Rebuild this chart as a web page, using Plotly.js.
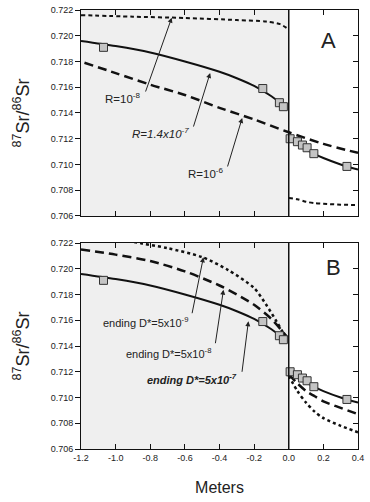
<!DOCTYPE html>
<html>
<head>
<meta charset="utf-8">
<script src="https://cdn.plot.ly/plotly-3.0.1.min.js"></script>
<style>
html,body{margin:0;padding:0;background:#fff;}
#chart{width:370px;height:502px;}
</style>
</head>
<body>
<div id="chart"></div>
<script>
// ---- measured data (same in both panels) ----
const dataX = [-1.07, -0.15, -0.054, -0.031, 0.008, 0.05, 0.079, 0.106, 0.145, 0.336];
const dataY = [0.7191, 0.7159, 0.7148, 0.71449, 0.7120, 0.71177, 0.71151, 0.7113, 0.71084, 0.70985];

// ---- best-fit model (solid), both panels ----
const fitLeftX  = [-1.2, -1.0, -0.8, -0.6, -0.4, -0.3, -0.2, -0.1, -0.02];
const fitLeftY  = [0.7196, 0.7192, 0.7187, 0.7180, 0.7172, 0.7167, 0.7161, 0.7153, 0.7145];
const fitRightX = [0.0, 0.05, 0.1, 0.15, 0.2, 0.3, 0.4];
const fitRightY = [0.7121, 0.7116, 0.7112, 0.7108, 0.7105, 0.7100, 0.7096];

// ---- panel A: R = 1e-6 (long dash, continuous) ----
const r6X = [-1.18, -1.0, -0.8, -0.6, -0.4, -0.2, 0.0, 0.2, 0.4];
const r6Y = [0.7179, 0.7171, 0.7162, 0.7154, 0.7144, 0.7135, 0.7125, 0.7116, 0.7109];

// ---- panel A: R = 1e-8 (short dash) ----
const r8LeftX  = [-1.2, -0.9, -0.6, -0.3, -0.13, -0.05, -0.01];
const r8LeftY  = [0.7216, 0.72148, 0.72138, 0.72122, 0.7211, 0.7209, 0.72058];
const r8RightX = [0.0, 0.05, 0.1, 0.15, 0.2, 0.3, 0.4];
const r8RightY = [0.7074, 0.7073, 0.7071, 0.7070, 0.70695, 0.70688, 0.70685];

// ---- panel B: ending D* = 5e-8 (long dash) ----
const d8LeftX  = [-1.2, -1.0, -0.8, -0.6, -0.4, -0.3, -0.2, -0.1, -0.04, -0.01];
const d8LeftY  = [0.7215, 0.7211, 0.7206, 0.7198, 0.7187, 0.7180, 0.7172, 0.7161, 0.7152, 0.7147];
const d8RightX = [0.0, 0.05, 0.1, 0.15, 0.2, 0.3, 0.4];
const d8RightY = [0.7118, 0.7111, 0.7105, 0.7101, 0.7097, 0.7092, 0.7087];

// ---- panel B: ending D* = 5e-9 (short dash) ----
const d9LeftX  = [-1.2, -1.0, -0.9, -0.7, -0.5, -0.35, -0.2, -0.13, -0.07, -0.03, -0.01];
const d9LeftY  = [0.7227, 0.72245, 0.7221, 0.7216, 0.7209, 0.7199, 0.7185, 0.7172, 0.7159, 0.7150, 0.7147];
const d9RightX = [0.0, 0.05, 0.1, 0.15, 0.2, 0.3, 0.4];
const d9RightY = [0.7117, 0.7105, 0.7096, 0.7089, 0.7084, 0.7078, 0.7073];

// ---- ticks ----
const xTickVals = [-1.2, -1.0, -0.8, -0.6, -0.4, -0.2, 0.0, 0.2, 0.4];
const xTickText = ['-1.2', '-1.0', '-0.8', '-0.6', '-0.4', '-0.2', '0.0', '0.2', '0.4'];
const yTickVals = [0.706, 0.708, 0.710, 0.712, 0.714, 0.716, 0.718, 0.720, 0.722];

const BLK = '#111';
const solid = {color: BLK, width: 2, shape: 'spline', smoothing: 0.8};
const longDash = {color: BLK, width: 2.5, dash: '9px,5px', shape: 'spline', smoothing: 0.8};
const shortDashA = {color: BLK, width: 2, dash: '4px,3px', shape: 'spline', smoothing: 0.8};
const shortDashB = {color: BLK, width: 2.5, dash: '3px,3px', shape: 'spline', smoothing: 0.8};
const markerStyle = {symbol: 'square', size: 8, color: '#c4c4c4', line: {color: '#333', width: 1}};

function ln(x, y, line, xa, ya) {
  return {x: x, y: y, mode: 'lines', line: line, xaxis: xa, yaxis: ya, hoverinfo: 'skip'};
}

const traces = [
  // panel A
  ln(r8LeftX, r8LeftY, shortDashA, 'x', 'y'),
  ln(r8RightX, r8RightY, shortDashA, 'x', 'y'),
  ln(r6X, r6Y, longDash, 'x', 'y'),
  ln(fitLeftX, fitLeftY, solid, 'x', 'y'),
  ln(fitRightX, fitRightY, solid, 'x', 'y'),
  {x: dataX, y: dataY, mode: 'markers', marker: markerStyle, xaxis: 'x', yaxis: 'y', cliponaxis: false},
  // panel B
  ln(d9LeftX, d9LeftY, shortDashB, 'x2', 'y2'),
  ln(d9RightX, d9RightY, shortDashB, 'x2', 'y2'),
  ln(d8LeftX, d8LeftY, longDash, 'x2', 'y2'),
  ln(d8RightX, d8RightY, longDash, 'x2', 'y2'),
  ln(fitLeftX, fitLeftY, solid, 'x2', 'y2'),
  ln(fitRightX, fitRightY, solid, 'x2', 'y2'),
  {x: dataX, y: dataY, mode: 'markers', marker: markerStyle, xaxis: 'x2', yaxis: 'y2', cliponaxis: false},
  // empty helpers for right-side inside ticks
  {x: [], y: [], xaxis: 'x', yaxis: 'y3', mode: 'lines', hoverinfo: 'skip'},
  {x: [], y: [], xaxis: 'x2', yaxis: 'y4', mode: 'lines', hoverinfo: 'skip'}
];

const FONT = 'Liberation Sans, Arial, sans-serif';
const tickFont = {family: FONT, size: 9, color: '#222'};

function xAxis(anchor, labels) {
  return {
    anchor: anchor, domain: [0, 1], range: [-1.2, 0.4],
    tickvals: xTickVals, ticktext: xTickText, ticks: 'inside', ticklen: 5, tickcolor: BLK,
    showticklabels: labels, tickfont: tickFont,
    showline: true, linecolor: BLK, linewidth: 1, mirror: 'ticks',
    showgrid: false, zeroline: false
  };
}
function yAxis(anchor, domain) {
  return {
    anchor: anchor, domain: domain, range: [0.706, 0.722],
    tickvals: yTickVals, tickformat: '.3f', ticks: 'outside', ticklen: 5, tickcolor: BLK,
    tickfont: tickFont, showline: true, linecolor: BLK, linewidth: 1, mirror: true,
    showgrid: false, zeroline: false,
    title: {text: '<sup>87</sup>Sr/<sup>86</sup>Sr', font: {family: FONT, size: 18, color: '#222'}, standoff: 16}
  };
}
function yRight(over, anchor) {
  return {
    overlaying: over, anchor: anchor, side: 'right', range: [0.706, 0.722],
    tickvals: yTickVals, ticks: 'inside', ticklen: 5, tickcolor: BLK,
    showticklabels: false, showline: false, showgrid: false, zeroline: false
  };
}

const xa2 = xAxis('y2', true);
xa2.title = {text: 'Meters', font: {family: FONT, size: 16, color: '#222'}, standoff: 20};

const annFont = {family: FONT, size: 11, color: '#222'};
function label(text, x, y, xr, yr, extra) {
  return Object.assign({text: text, x: x, y: y, xref: xr, yref: yr, showarrow: false,
    xanchor: 'center', yanchor: 'middle', font: annFont}, extra || {});
}
function arrow(x, y, ax, ay, xr, yr) {
  return {text: '', x: x, y: y, ax: ax, ay: ay, xref: xr, yref: yr, axref: xr, ayref: yr,
    showarrow: true, arrowhead: 2, arrowsize: 1, arrowwidth: 1, arrowcolor: '#222', standoff: 0};
}

const annotations = [
  // panel A
  label('R=10<sup>-8</sup>', -0.96, 0.7152, 'x', 'y', {font: {family: FONT, size: 11.5, color: '#222'}}),
  label('<i>R=1.4x10<sup>-7</sup></i>', -0.738, 0.71245, 'x', 'y', {font: {family: FONT, size: 11.5, color: '#222'}}),
  label('R=10<sup>-6</sup>', -0.483, 0.70934, 'x', 'y', {font: {family: FONT, size: 11.5, color: '#222'}}),
  arrow(-0.676, 0.7214, -0.83, 0.71555, 'x', 'y'),
  arrow(-0.454, 0.71711, -0.553, 0.71283, 'x', 'y'),
  arrow(-0.269, 0.71361, -0.356, 0.70973, 'x', 'y'),
  label('A', 0.228, 0.71967, 'x', 'y', {font: {family: FONT, size: 22, color: '#222'}}),
  // panel B
  label('ending D*=5x10<sup>-9</sup>', -0.83, 0.71586, 'x2', 'y2'),
  label('ending D*=5x10<sup>-8</sup>', -0.697, 0.71346, 'x2', 'y2'),
  label('<b><i>ending D*=5x10<sup>-7</sup></i></b>', -0.561, 0.71144, 'x2', 'y2'),
  arrow(-0.493, 0.72089, -0.56, 0.71643, 'x2', 'y2'),
  arrow(-0.377, 0.71837, -0.425, 0.7141, 'x2', 'y2'),
  arrow(-0.233, 0.71592, -0.271, 0.71188, 'x2', 'y2'),
  label('B', 0.256, 0.72006, 'x2', 'y2', {font: {family: FONT, size: 22, color: '#222'}})
];

const shapes = [
  {type: 'rect', xref: 'x', yref: 'y domain', x0: -1.2, x1: 0, y0: 0, y1: 1, fillcolor: '#efefef', line: {width: 0}, layer: 'below'},
  {type: 'rect', xref: 'x2', yref: 'y2 domain', x0: -1.2, x1: 0, y0: 0, y1: 1, fillcolor: '#efefef', line: {width: 0}, layer: 'below'},
  {type: 'line', xref: 'x', yref: 'y domain', x0: 0, x1: 0, y0: 0, y1: 1, line: {color: BLK, width: 1.5}},
  {type: 'line', xref: 'x2', yref: 'y2 domain', x0: 0, x1: 0, y0: 0, y1: 1, line: {color: BLK, width: 1.5}}
];

const layout = {
  width: 370, height: 502,
  margin: {l: 81, r: 12, t: 10, b: 53},
  paper_bgcolor: '#fff', plot_bgcolor: '#fff',
  showlegend: false,
  font: {family: FONT, color: '#222'},
  xaxis: xAxis('y', false),
  yaxis: yAxis('x', [0.5308, 1]),
  yaxis3: yRight('y', 'x'),
  xaxis2: xa2,
  yaxis2: yAxis('x2', [0, 0.4692]),
  yaxis4: yRight('y2', 'x2'),
  annotations: annotations,
  shapes: shapes
};

Plotly.newPlot('chart', traces, layout, {displayModeBar: false, staticPlot: true});
</script>
</body>
</html>
